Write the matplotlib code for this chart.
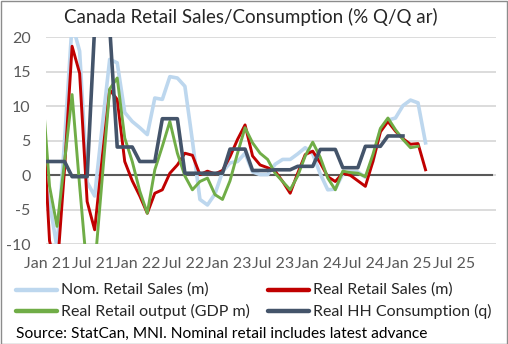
import numpy as np
import matplotlib
matplotlib.use("Agg")
import matplotlib.pyplot as plt
from matplotlib.lines import Line2D
from matplotlib.patches import Rectangle

plt.rcParams['font.family'] = ['Lato', 'DejaVu Sans']

# months since Jan 2021 (Dec 2020 = -1)
nominal_retail = [1, -4, -10.5, 5, 22, 18, -1, -3, 7, 16.8, 16.3, 9.1, 7.8, 6.9, 5.9,
                  11.2, 11.0, 14.3, 14.1, 12.9, 5.0, -3.5, -4.3, -2.7, 0.5, 1.8, 2.0, 3.2,
                  0.5, 0.1, 0.1, 1.6, 2.3, 2.3, 3.1, 4.0, 3.1, 0.2, -2.1, -2.0, 0.2, 0.5,
                  0.5, -0.3, 2.0, 6.6, 8.0, 8.3, 10.1, 10.9, 10.5, 4.7]
real_retail = [10.5, -9.5, -14, 1, 18.7, 14.8, -3.8, -7.9, 2.5, 12.4, 11.0, 2.0, -0.8,
               -3.0, -5.5, -2.6, -2.1, 0.3, 1.5, 3.2, 2.9, 0.1, 0.6, 0.2, 0.7, 2.7, 5.2,
               7.3, 2.8, 1.5, 1.1, 0.6, -0.9, -2.6, 0.3, 3.0, 3.5, 1.8, -0.2, -0.9, 0.3,
               0.0, -0.8, -1.6, 2.0, 6.3, 7.8, 6.4, 5.3, 4.5, 4.6, 0.8]
retail_gdp = [13, -1.6, -7.4, 2, 11.7, -1.5, -14, -13.5, -0.5, 12.5, 14.1, 5.4, 2.0,
              -2.3, -5.5, 0.8, 4.2, 7.8, 3.2, -0.1, -2.1, -0.9, -0.4, -2.8, -3.5, -0.8,
              3.2, 6.9, 4.7, 3.2, 2.3, 0.3, -0.9, -2.1, -0.1, 2.8, 4.8, 2.6, -0.4, -2.1,
              0.6, 0.4, 0.3, -0.2, 3.0, 6.8, 8.3, 6.6, 5.2, 4.0, 4.2]
# quarterly HH consumption, Q1 21 .. Q4 24 (shown as monthly steps), plus Dec 20
hh_dec20 = 2.0
hh_quarterly = [2.0, -0.2, 21.5, 4.1, 2.0, 8.2, 0.3, 0.3, 3.8, 0.7, 0.8, 1.3, 3.75, 1.1, 4.2, 5.7]

tick_labels = ['Jan 21', 'Jul 21', 'Jan 22', 'Jul 22', 'Jan 23', 'Jul 23',
               'Jan 24', 'Jul 24', 'Jan 25', 'Jul 25']
y_ticks = [-10, -5, 0, 5, 10, 15, 20]

hh_monthly = [hh_dec20] + list(np.repeat(hh_quarterly, 3))

m_nom = np.arange(len(nominal_retail)) - 1
m_real = np.arange(len(real_retail)) - 1
m_gdp = np.arange(len(retail_gdp)) - 1
m_hh = np.arange(len(hh_monthly)) - 1

W, H = 508, 344
fig = plt.figure(figsize=(W / 100, H / 100), dpi=100)
fig.patch.set_facecolor('white')
fig.add_artist(Rectangle((0.5 / W, 0.5 / H), 1 - 1.5 / W, 1 - 1.5 / H, transform=fig.transFigure,
                         fill=False, edgecolor='#8C8C8C', lw=1.0))

ax_l, ax_r, ax_t, ax_b = 46, 496, 37.3, 244.3
ax = fig.add_axes([ax_l / W, 1 - ax_b / H, (ax_r - ax_l) / W, (ax_b - ax_t) / H])
for s in ax.spines.values():
    s.set_visible(False)

c_nom, c_real, c_gdp, c_hh = '#BDD7EE', '#C00000', '#70AD47', '#44546A'
ax.plot(m_nom, nominal_retail, color=c_nom, lw=2.6, solid_joinstyle='round', zorder=3)
ax.plot(m_real, real_retail, color=c_real, lw=2.1, solid_joinstyle='round', zorder=4)
ax.plot(m_gdp, retail_gdp, color=c_gdp, lw=2.1, solid_joinstyle='round', zorder=5)
ax.plot(m_hh, hh_monthly, color=c_hh, lw=2.6, solid_joinstyle='round', zorder=6)

px_per_month = 7.52
x0 = -0.47
ax.set_xlim(x0, x0 + (ax_r - ax_l) / px_per_month)
ax.set_ylim(-10, 20)
ax.set_yticks(y_ticks)
ax.set_yticklabels([str(v) for v in y_ticks])
ax.yaxis.grid(True, color='#D9D9D9', lw=1.3, zorder=0)
ax.axhline(0, xmin=0, xmax=(492 - ax_l) / (ax_r - ax_l), color='#595959', lw=1.5, zorder=2)
ax.set_axisbelow(True)
ax.tick_params(axis='y', length=0, pad=11, labelsize=11.5, labelcolor='#595959')
ax.tick_params(axis='x', length=0, pad=9, labelsize=11.5, labelcolor='#595959')
ax.set_xticks(np.arange(len(tick_labels)) * 6 - 0.27)
ax.set_xticklabels(tick_labels)

fig.text(251 / W, 1 - 17 / H, 'Canada Retail Sales/Consumption (% Q/Q ar)', ha='center', va='center',
         fontsize=13.5, color='#262626')

legend_items = [('Nom. Retail Sales (m)', c_nom, 16, 290), ('Real Retail Sales (m)', c_real, 268, 290),
                ('Real Retail output (GDP m)', c_gdp, 16, 311), ('Real HH Consumption (q)', c_hh, 268, 311)]
for label, col, lx, ly in legend_items:
    fig.add_artist(Line2D([lx / W, (lx + 41) / W], [1 - ly / H, 1 - ly / H], transform=fig.transFigure,
                          color=col, lw=3.2, solid_capstyle='round'))
    fig.text((lx + 45) / W, 1 - ly / H, label, ha='left', va='center', fontsize=11.5, color='#262626')

fig.text(16 / W, 1 - 334 / H, 'Source: StatCan, MNI. Nominal retail includes latest advance',
         ha='left', va='center', fontsize=11.2, color='#000000')

fig.savefig('out.png', dpi=100)
